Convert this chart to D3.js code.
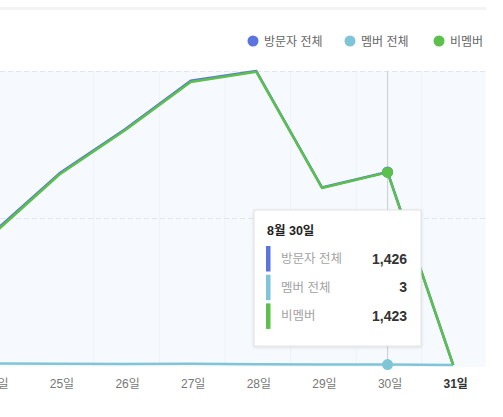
<!DOCTYPE html>
<html><head><meta charset="utf-8">
<script src="https://cdn.jsdelivr.net/npm/d3@7"></script>
<style>
html,body{margin:0;padding:0;background:#fff;overflow:hidden;}
svg{display:block;font-family:"Liberation Sans","Noto Sans CJK KR",sans-serif;}
</style></head>
<body>
<svg id="c" width="503" height="417"></svg>
<script>
const days = [24, 25, 26, 27, 28, 29, 30, 31];
const dayLabels = ["24일", "25일", "26일", "27일", "28일", "29일", "30일", "31일"];
const visitors = [983, 1416, 1741, 2100, 2172, 1312, 1426, 0];
const members = [12, 9, 7, 10, 6, 4, 3, 0];
const nonMembers = [971, 1407, 1734, 2090, 2166, 1308, 1423, 0];
const seriesNames = ["방문자 전체", "멤버 전체", "비멤버"];
const seriesColors = ["#5b74de", "#80c4d7", "#5bc14a"];
const yMax = 2172;
const yTicks = [1086, 2172];
const tipTitle = "8월 30일";
const activeIndex = 6;

const svg = d3.select("#c");
const plot = {left: -39, right: 486, top: 71, bottom: 365};

const x = d3.scaleBand().domain(days).range([plot.left, plot.right]).paddingInner(0).paddingOuter(0);
const cx = d => x(d) + x.bandwidth() / 2;
const y = d3.scaleLinear().domain([0, yMax]).range([plot.bottom, plot.top]);

// top separator
svg.append("rect").attr("x", 0).attr("y", 7).attr("width", 486).attr("height", 3).attr("fill", "#f3f3f3");

// plot background
svg.append("rect").attr("x", 0).attr("y", plot.top).attr("width", plot.right).attr("height", plot.bottom - plot.top + 2)
  .attr("fill", "#f6fafe");

// faint vertical band lines
svg.append("g").selectAll("line").data(days.slice(2)).join("line")
  .attr("x1", d => x(d) + 1.5).attr("x2", d => x(d) + 1.5)
  .attr("y1", plot.top).attr("y2", plot.bottom)
  .attr("stroke", "#eef3f8").attr("stroke-width", 1);

// horizontal dashed grid
const yAxis = d3.axisLeft(y).tickValues(yTicks).tickSize(-(plot.right)).tickFormat("");
const gy = svg.append("g").call(yAxis);
gy.select(".domain").remove();
gy.selectAll(".tick line").attr("stroke", "#dfe5ec").attr("stroke-dasharray", "5,3").attr("stroke-width", 1.2)
  .attr("x1", 0).attr("x2", plot.right);

// crosshair
svg.append("line").attr("x1", cx(days[activeIndex])).attr("x2", cx(days[activeIndex]))
  .attr("y1", plot.top).attr("y2", plot.bottom).attr("stroke", "#cfd3d8").attr("stroke-width", 1.2);

// x axis labels
const xAxis = d3.axisBottom(d3.scalePoint().domain(dayLabels).range([cx(days[0]), cx(days[days.length - 1])]))
  .tickSize(0).tickPadding(0);
const gx = svg.append("g").attr("transform", "translate(2," + (plot.bottom + 14) + ")").call(xAxis);
gx.select(".domain").remove();
gx.selectAll("text").attr("font-size", 12).attr("fill", "#777").attr("font-family", "Liberation Sans, Noto Sans CJK KR, sans-serif")
  .attr("dy", "0.71em")
  .filter((d, i) => i === days.length - 1).attr("font-weight", "bold").attr("fill", "#333");

// lines
const line = d3.line().x((d, i) => cx(days[i])).y(d => y(d));
const allSeries = [visitors, members, nonMembers];
const order = [0, 1, 2];
order.forEach(k => {
  svg.append("path").datum(allSeries[k]).attr("d", line).attr("fill", "none")
    .attr("stroke", seriesColors[k]).attr("stroke-width", 2.5).attr("stroke-linejoin", "round");
});
// active dots
order.forEach(k => {
  svg.append("circle").attr("cx", cx(days[activeIndex])).attr("cy", y(allSeries[k][activeIndex]))
    .attr("r", 5.5).attr("fill", seriesColors[k]);
});

// legend
const legendX = [253, 350, 439];
const lg = svg.append("g");
seriesNames.forEach((n, i) => {
  lg.append("circle").attr("cx", legendX[i]).attr("cy", 41).attr("r", 5.5).attr("fill", seriesColors[i]);
  lg.append("text").attr("x", legendX[i] + 11).attr("y", 45.5).attr("font-size", 12).attr("fill", "#666").text(n);
});

// tooltip
const defs = svg.append("defs");
const f = defs.append("filter").attr("id", "sh").attr("x", "-20%").attr("y", "-20%").attr("width", "140%").attr("height", "140%");
f.append("feDropShadow").attr("dx", 0).attr("dy", 1).attr("stdDeviation", 1.5).attr("flood-color", "#000").attr("flood-opacity", 0.12);
const tip = svg.append("g").attr("transform", "translate(254,210)");
tip.append("rect").attr("x", 0).attr("y", 0).attr("width", 167).attr("height", 136)
  .attr("fill", "#fff").attr("stroke", "#e2e2e2").attr("stroke-width", 1).attr("filter", "url(#sh)");
tip.append("text").attr("x", 13).attr("y", 24.5).attr("font-size", 12.5).attr("font-weight", "bold").attr("fill", "#222").text(tipTitle);
const fmt = d3.format(",");
seriesNames.forEach((n, i) => {
  const ty = 36 + i * 28.7;
  tip.append("rect").attr("x", 12).attr("y", ty).attr("width", 4.5).attr("height", 25.5).attr("fill", seriesColors[i]);
  tip.append("text").attr("x", 27).attr("y", ty + 17).attr("font-size", 12.5).attr("fill", "#a3a3a3").text(n);
  tip.append("text").attr("x", 153).attr("y", ty + 17.5).attr("text-anchor", "end").attr("font-size", 14)
    .attr("font-weight", "bold").attr("fill", "#333").text(fmt(allSeries[i][activeIndex]));
});
</script>
</body></html>
